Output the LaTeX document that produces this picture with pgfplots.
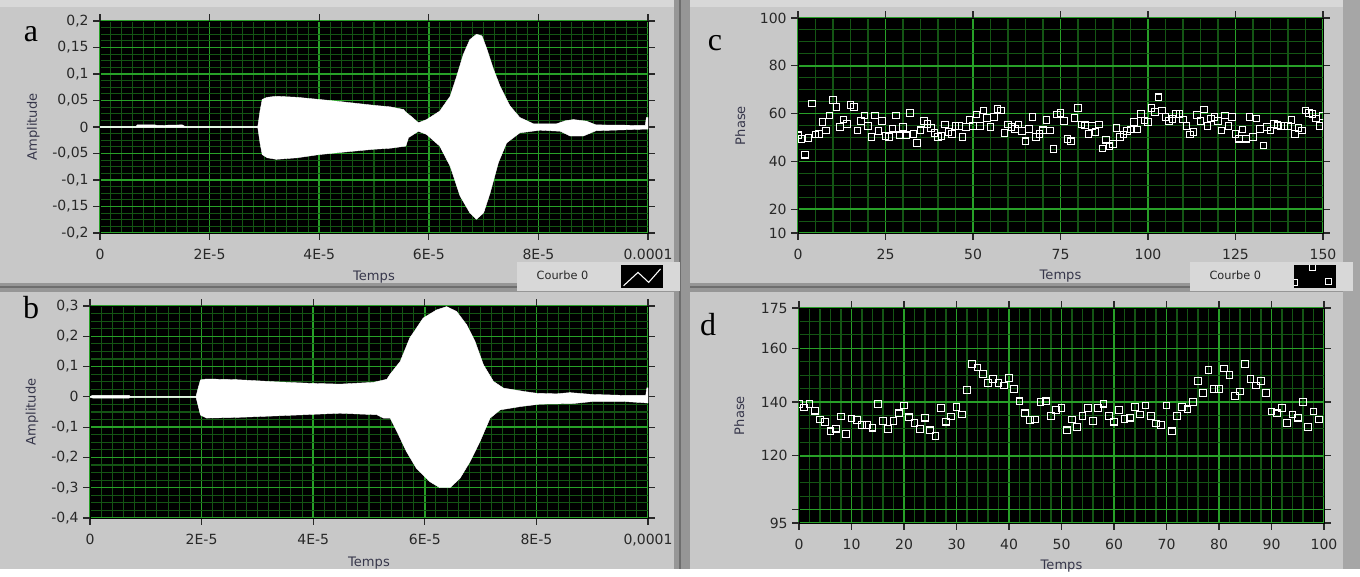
\documentclass[border=0pt]{standalone}
\usepackage{pgfplots}
\pgfplotsset{compat=1.18}
\usepackage{fontspec}
\newfontfamily\lvfont{DejaVu Sans}
\newfontfamily\lettfont{Liberation Serif}
\definecolor{bg}{RGB}{200,200,200}
\definecolor{bgl}{RGB}{216,216,216}
\definecolor{divc}{RGB}{150,150,150}
\definecolor{divd}{RGB}{110,110,110}
\definecolor{gmaj}{RGB}{40,160,40}
\definecolor{gmin}{RGB}{20,85,20}
\definecolor{tickc}{RGB}{40,40,40}
\definecolor{labc}{RGB}{55,55,75}
\pgfplotsset{
  lv/.style={
    scale only axis,
    anchor=south west,
    axis background/.style={fill=black},
    axis line style={draw=black, line width=0.5pt},
    grid=both,
    major grid style={draw=gmaj, line width=1.1pt},
    minor grid style={draw=gmin, line width=0.8pt},
    tick align=outside,
    major tick length=5pt,
    minor tick length=0pt,
    tick style={draw=tickc, line width=0.9pt},
    /pgf/number format/assume math mode=true,
    ticklabel style={font=\lvfont\fontsize{10.5}{12}\selectfont, text=tickc},
    xticklabel style={yshift=-3.5pt},
    label style={font=\lvfont\fontsize{9.8}{12}\selectfont, text=labc},
    clip marker paths=true,
    legend plot pos=right,
    legend style={anchor=north east, fill=bgl, draw=none, inner xsep=13pt, inner ysep=2.25pt,
      font=\lvfont\fontsize{8.5}{10}\selectfont, text=tickc, column sep=22.5pt},
  },
  sq/.style={only marks, mark=square, mark size=2.5pt, mark options={draw=white, fill=none, line width=0.85pt}},
}
\begin{document}
\begin{tikzpicture}
\begin{scope}[x=0.75pt,y=-0.75pt]
\useasboundingbox (0,0) rectangle (1360,569);
\fill[bg] (0,0) rectangle (1360,569);
\fill[bgl] (0,0) rectangle (1360,7);
\fill[divc] (0,283) rectangle (1360,292);
\fill[divd] (0,286) rectangle (1360,288);
\fill[divc] (674,0) rectangle (690,569);
\fill[divd] (679,0) rectangle (681,569);
\fill[divc!85] (1343,0) rectangle (1360,569);
\node[anchor=base, font=\lettfont\fontsize{24}{26}\selectfont] at (31,41) {a};
\node[anchor=base, font=\lettfont\fontsize{24}{26}\selectfont] at (31,318) {b};
\node[anchor=base, font=\lettfont\fontsize{24}{26}\selectfont] at (715,50) {c};
\node[anchor=base, font=\lettfont\fontsize{24}{26}\selectfont] at (708,335) {d};
\end{scope}

% ---------- panel a ----------
\begin{axis}[lv, at={(75pt,-174.75pt)}, width=411pt, height=159pt,
  xmin=0, xmax=10, ymin=-0.2, ymax=0.2,
  xtick={0,2,4,6,8,10}, xticklabels={0,2E-5,4E-5,6E-5,8E-5,0.0001},
  minor x tick num=9,
  ytick={-0.2,-0.15,-0.1,-0.05,0,0.05,0.1,0.15,0.2},
  yticklabels={{-0,2},{-0,15},{-0,1},{-0,05},0,{0,05},{0,1},{0,15},{0,2}},
  minor y tick num=3,
  xlabel={Temps}, ylabel={Amplitude},
  xlabel style={at={(axis description cs:0.5,-0.208)}, anchor=center},
  ylabel style={at={(axis description cs:-0.122,0.5)}, anchor=center},
  legend style={at={(axis description cs:1.0584,-0.137)}},
]
\addplot[fill=white, draw=white, line width=0.3pt,
  legend image code/.code={
    \fill[black] (0pt,-8.25pt) rectangle (30.75pt,8.25pt);
    \draw[white, fill=none, line width=0.8pt] (1.8pt,-6.9pt) -- (12.6pt,3.1pt) -- (20.6pt,-4.4pt) -- (29.5pt,5.7pt);
  }] coordinates {
(0,0.0012) (0.66,0.0012) (0.68,0.004) (1.0,0.004) (1.05,0.003) (1.5,0.004) (1.55,0.0012)
(2.88,0.0012) (2.92,0.03) (2.96,0.052) (3.05,0.056) (3.22,0.058) (3.6,0.056) (4.0,0.052)
(4.38,0.048) (4.99,0.041) (5.3,0.038) (5.54,0.033) (5.58,0.028) (5.69,0.019) (5.81,0.008)
(5.96,0.014) (6.20,0.030) (6.39,0.058) (6.51,0.096) (6.63,0.137) (6.75,0.165) (6.87,0.175)
(6.97,0.172) (7.06,0.147) (7.18,0.109) (7.30,0.077) (7.48,0.040) (7.66,0.018) (7.91,0.006)
(8.33,0.006) (8.50,0.012) (8.64,0.014) (8.88,0.011) (9.05,0.004) (9.95,0.003) (9.97,0.018) (10,0.018)
(10,-0.004) (9.95,-0.004) (9.05,-0.007) (8.82,-0.017) (8.58,-0.017) (8.40,-0.008) (8.03,-0.006)
(7.66,-0.011) (7.42,-0.030) (7.27,-0.067) (7.12,-0.124) (7.00,-0.162) (6.87,-0.174) (6.75,-0.162)
(6.57,-0.130) (6.39,-0.074) (6.20,-0.036) (5.96,-0.014) (5.81,-0.008) (5.72,-0.014) (5.63,-0.020)
(5.58,-0.036) (5.3,-0.040) (4.99,-0.042) (4.38,-0.048) (4.0,-0.052) (3.6,-0.058) (3.22,-0.061)
(3.05,-0.058) (2.96,-0.052) (2.92,-0.03) (2.88,-0.0012) (0,-0.0012)
} -- cycle;
\addlegendentry{Courbe 0}
\end{axis}

% ---------- panel b ----------
\begin{axis}[lv, at={(67.5pt,-388.5pt)}, width=418.5pt, height=159pt,
  xmin=0, xmax=10, ymin=-0.4, ymax=0.3,
  xtick={0,2,4,6,8,10}, xticklabels={0,2E-5,4E-5,6E-5,8E-5,{0,0001}},
  minor x tick num=9,
  ytick={-0.4,-0.3,-0.2,-0.1,0,0.1,0.2,0.3},
  yticklabels={{-0,4},{-0,3},{-0,2},{-0,1},0,{0,1},{0,2},{0,3}},
  minor y tick num=3,
  xlabel={Temps}, ylabel={Amplitude},
  xlabel style={at={(axis description cs:0.5,-0.212)}, anchor=center},
  ylabel style={at={(axis description cs:-0.104,0.5)}, anchor=center},
]
\addplot[fill=white, draw=white, line width=0.3pt] coordinates {
(0,0.0015) (0.05,0.005) (0.7,0.005) (0.72,0.0015) (1.90,0.0015) (1.94,0.03) (1.98,0.056)
(2.09,0.059) (2.6,0.057) (3.3,0.050) (3.9,0.045) (4.48,0.042) (5.08,0.048) (5.32,0.058)
(5.38,0.075) (5.56,0.117) (5.73,0.194) (5.97,0.26) (6.21,0.287) (6.39,0.298) (6.57,0.282)
(6.75,0.238) (6.90,0.183) (7.05,0.106) (7.23,0.051) (7.41,0.029) (7.77,0.018) (8.0,0.012)
(8.36,0.010) (8.6,0.014) (9.0,0.008) (9.56,0.005) (9.96,0.005) (9.98,0.03) (10,0.03)
(10,-0.02) (9.98,-0.02) (9.56,-0.015) (9.02,-0.015) (8.66,-0.022) (8.06,-0.024) (7.71,-0.032)
(7.35,-0.043) (7.17,-0.07) (6.99,-0.147) (6.81,-0.214) (6.63,-0.269) (6.45,-0.30) (6.27,-0.30)
(6.09,-0.28) (5.85,-0.236) (5.67,-0.18) (5.50,-0.114) (5.38,-0.07) (5.26,-0.07) (5.14,-0.059)
(4.48,-0.054) (3.3,-0.063) (2.6,-0.068) (2.09,-0.070) (1.98,-0.06) (1.94,-0.03) (1.90,-0.0015)
(0.72,-0.0015) (0.7,-0.004) (0.05,-0.004) (0,-0.0015)
} -- cycle;
\end{axis}

% ---------- panel c ----------
\begin{axis}[lv, at={(598.5pt,-174.75pt)}, width=393.75pt, height=161.25pt,
  xmin=0, xmax=150, ymin=10, ymax=100,
  xtick={0,25,50,75,100,125,150}, minor x tick num=4,
  ytick={10,20,40,60,80,100},
  minor ytick={15,25,30,35,45,50,55,65,70,75,85,90,95},
  xlabel={Temps}, ylabel={Phase},
  xlabel style={at={(axis description cs:0.5,-0.2)}, anchor=center},
  ylabel style={at={(axis description cs:-0.11,0.5)}, anchor=center},
  legend style={at={(axis description cs:1.0571,-0.135)}},
]
\addplot[sq,
  legend image code/.code={
    \fill[black] (0pt,-8.25pt) rectangle (30.75pt,8.25pt);
    \begin{scope}
    \clip (0pt,-8.25pt) rectangle (30.75pt,8.25pt);
    \draw[white, fill=none, line width=0.85pt] (-1.75pt,-6.75pt) rectangle (2.75pt,-2.25pt);
    \draw[white, fill=none, line width=0.85pt] (11.5pt,4.5pt) rectangle (16pt,9pt);
    \draw[white, fill=none, line width=0.85pt] (23.25pt,-6.25pt) rectangle (27.75pt,-1.75pt);
    \end{scope}
  }] table {
x y
0 50.9
1 49.4
2 42.8
3 49.8
4 64.2
5 51.2
6 51.5
7 56.5
8 52.9
9 59.2
10 65.6
11 62.8
12 54.3
13 57.5
14 55.7
15 63.5
16 62.8
17 52.9
18 56.8
19 59.2
20 54.7
21 50.2
22 59.2
23 52.6
24 56.8
25 50.5
26 50.2
27 53.7
28 59.2
29 50.9
30 54.3
31 50.9
32 60.3
33 51.5
34 47.7
35 53.0
36 56.8
37 55.7
38 54.0
39 51.9
40 50.2
41 50.5
42 55.4
43 52.2
44 51.5
45 54.7
46 54.7
47 50.2
48 54.3
49 57.2
50 54.7
51 59.6
52 54.7
53 61.3
54 58.2
55 54.3
56 58.6
57 62.0
58 61.3
59 51.9
60 55.4
61 54.3
62 53.6
63 55.4
64 52.6
65 48.4
66 53.6
67 58.5
68 50.2
69 51.5
70 53.0
71 57.2
72 52.9
73 45.2
74 59.6
75 60.3
76 56.8
77 49.4
78 48.4
79 58.2
80 62.4
81 55.4
82 55.1
83 51.5
84 54.7
85 52.2
86 55.4
87 45.4
88 49.1
89 46.3
90 47.3
91 54.0
92 50.2
93 51.2
94 52.6
95 53.3
96 56.4
97 53.3
98 59.9
99 57.1
100 56.4
101 62.4
102 60.6
103 66.8
104 61.3
105 58.5
106 56.8
107 57.8
108 59.9
109 59.9
110 57.5
111 54.7
112 51.2
113 52.2
114 59.3
115 56.8
116 61.7
117 54.7
118 57.9
119 58.6
120 56.8
121 52.9
122 59.2
123 54.7
124 58.5
125 51.5
126 49.5
127 53.3
128 49.5
129 58.6
130 50.1
131 57.9
132 53.6
133 46.6
134 54.3
135 52.9
136 55.7
137 55.1
138 54.7
139 54.7
140 54.7
141 57.2
142 51.5
143 54.0
144 52.9
145 61.3
146 60.3
147 59.9
148 57.9
149 54.7
150 58.9
};
\addlegendentry{Courbe 0}
\end{axis}

% ---------- panel d ----------
\begin{axis}[lv, at={(599.25pt,-392.25pt)}, width=393.75pt, height=161.25pt,
  xmin=0, xmax=100, ymin=95, ymax=175,
  xtick={0,10,...,100}, minor x tick num=4,
  ytick={95,100,120,140,160,175}, yticklabels={95,{},120,140,160,175},
  minor ytick={105,110,115,125,130,135,145,150,155,165,170},
  xlabel={Temps}, ylabel={Phase},
  xlabel style={at={(axis description cs:0.5,-0.2)}, anchor=center},
  ylabel style={at={(axis description cs:-0.114,0.5)}, anchor=center},
]
\addplot[sq] table {
x y
0 139.2
1 138.0
2 139.2
3 136.8
4 133.5
5 132.5
6 129.1
7 130.1
8 134.6
9 128.2
10 133.9
11 133.3
12 131.4
13 131.4
14 130.5
15 139.2
16 133.0
17 129.9
18 133.0
19 135.8
20 138.7
21 134.3
22 132.3
23 130.0
24 134.2
25 129.5
26 127.3
27 137.7
28 132.7
29 134.6
30 138.1
31 135.4
32 144.4
33 154.2
34 152.9
35 150.4
36 147.0
37 148.5
38 147.0
39 146.2
40 148.9
41 144.9
42 140.3
43 135.8
44 133.3
45 133.5
46 140.0
47 140.3
48 134.8
49 137.1
50 137.7
51 129.5
52 133.5
53 130.8
54 134.8
55 137.7
56 133.0
57 137.7
58 139.4
59 134.8
60 132.7
61 137.1
62 133.7
63 134.2
64 138.1
65 135.4
66 138.7
67 134.9
68 132.0
69 131.4
70 138.7
71 129.1
72 134.8
73 138.1
74 137.3
75 140.0
76 147.8
77 143.4
78 152.0
79 144.9
80 144.9
81 152.5
82 150.1
83 142.2
84 143.9
85 154.2
86 148.5
87 146.2
88 147.8
89 143.4
90 136.5
91 135.8
92 137.7
93 132.3
94 135.4
95 134.2
96 140.0
97 130.8
98 136.5
99 133.5
};
\end{axis}
\end{tikzpicture}
\end{document}
